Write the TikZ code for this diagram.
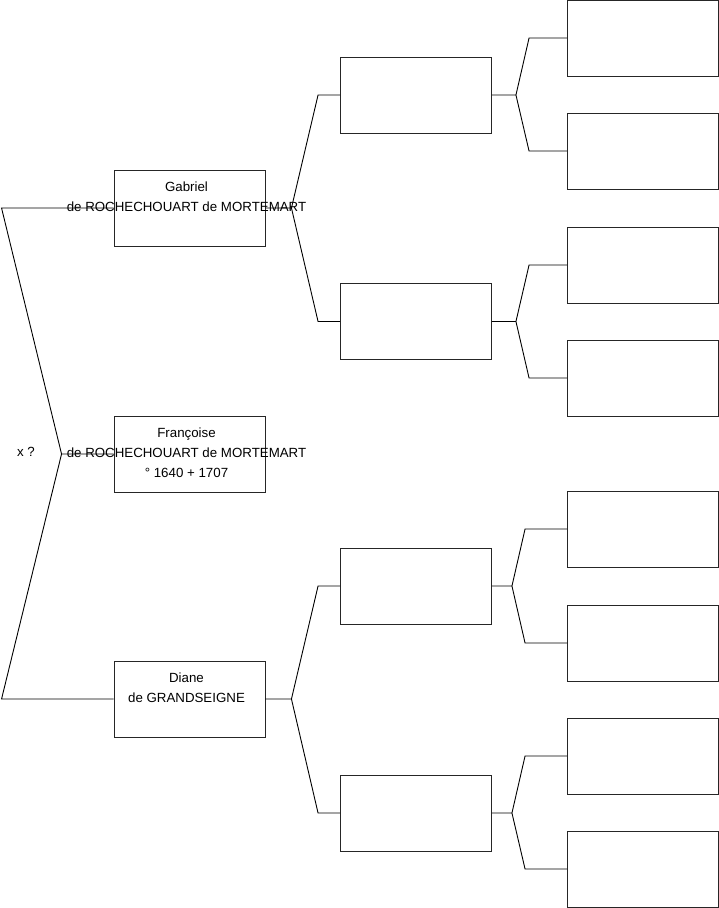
\documentclass[tikz,border=0pt]{standalone}
\usepackage{fontspec}
\setmainfont{Liberation Sans}
\usetikzlibrary{positioning,calc}

\begin{document}
\begin{tikzpicture}[x=1pt, y=-1pt,
      every node/.style={font=\fontsize{13.3}{20}\selectfont, align=center},
      person/.style={draw=black!85, line width=0.9pt,
                     minimum width=151pt, minimum height=76pt, inner sep=0pt},
      who/.style={anchor=north, inner sep=0pt, xshift=-3pt, yshift=-12pt},
      link/.style={line width=0.9pt}
  ]
    \useasboundingbox (0,0) rectangle (719,908);
    % generation 1
    \node[person] (fra) at (189.5,454) {};
    \node[who] (fraTxt) at (fra.north) {Françoise\\de ROCHECHOUART de MORTEMART\\° 1640 + 1707};
    \node (xq) at (26,452) {x ?};
    % parents
    \node[person] (gab) at (189.5,208) {};
    \node[who] (gabTxt) at (gab.north) {Gabriel\\de ROCHECHOUART de MORTEMART};
    \node[person] (dia) at (189.5,699) {};
    \node[who] (diaTxt) at (dia.north) {Diane\\de GRANDSEIGNE};
    % grand parents
    \node[person] (gabF) at (416,95) {};
    \node[person] (gabM) at (416,321.5) {};
    \node[person] (diaF) at (416,586) {};
    \node[person] (diaM) at (416,813) {};
    % great grand parents
    \node[person] (gabFF) at (643,38) {};
    \node[person] (gabFM) at (643,151) {};
    \node[person] (gabMF) at (643,265) {};
    \node[person] (gabMM) at (643,378) {};
    \node[person] (diaFF) at (643,529) {};
    \node[person] (diaFM) at (643,643) {};
    \node[person] (diaMF) at (643,756) {};
    \node[person] (diaMM) at (643,869) {};

    \draw[link] (fra.west) -- ++(-52,0) coordinate (forkFra) -- ([xshift=-112pt]gab.west) -- (gab.west)
                (forkFra) -- ([xshift=-112pt]dia.west) -- (dia.west);
    \draw[link] (gab.east) -- ++(26,0) coordinate (forkGab) -- ([xshift=-22pt]gabF.west) -- (gabF.west)
                (forkGab) -- ([xshift=-22pt]gabM.west) -- (gabM.west);
    \draw[link] (dia.east) -- ++(26,0) coordinate (forkDia) -- ([xshift=-22pt]diaF.west) -- (diaF.west)
                (forkDia) -- ([xshift=-22pt]diaM.west) -- (diaM.west);
    \draw[link] (gabF.east) -- ++(24,0) coordinate (forkGabF) -- ([xshift=-38pt]gabFF.west) -- (gabFF.west)
                (forkGabF) -- ([xshift=-38pt]gabFM.west) -- (gabFM.west);
    \draw[link] (gabM.east) -- ++(24,0) coordinate (forkGabM) -- ([xshift=-38pt]gabMF.west) -- (gabMF.west)
                (forkGabM) -- ([xshift=-38pt]gabMM.west) -- (gabMM.west);
    \draw[link] (diaF.east) -- ++(20,0) coordinate (forkDiaF) -- ([xshift=-42pt]diaFF.west) -- (diaFF.west)
                (forkDiaF) -- ([xshift=-42pt]diaFM.west) -- (diaFM.west);
    \draw[link] (diaM.east) -- ++(20,0) coordinate (forkDiaM) -- ([xshift=-42pt]diaMF.west) -- (diaMF.west)
                (forkDiaM) -- ([xshift=-42pt]diaMM.west) -- (diaMM.west);
  \end{tikzpicture}
\end{document}
